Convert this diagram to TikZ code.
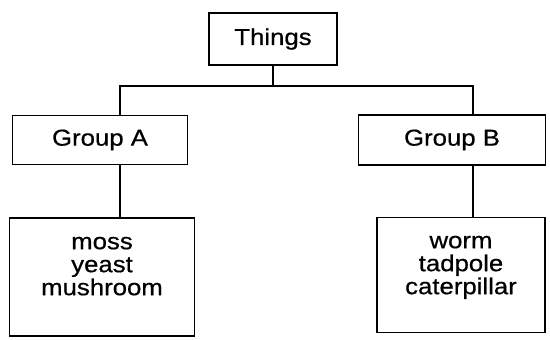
\documentclass[tikz,border=0pt]{standalone}
\usepackage{fontspec}
\setmainfont{Liberation Sans}[FakeStretch=1.12,FakeBold=0.6]
\begin{document}
\begin{tikzpicture}[x=1pt,y=-1pt,
  box/.style={draw=black,line width=1.3pt,inner sep=0pt,align=center,
    font=\fontsize{23}{23}\selectfont},
  link/.style={draw=black,line width=1.3pt}]
\useasboundingbox[fill=white] (0,0) rectangle (550,340);
\node[box,minimum width=128pt,minimum height=52pt] (T) at (273,39) {Things};
\node[box,minimum width=175pt,minimum height=49pt] (GA) at (100,140) {Group A};
\node[box,minimum width=187pt,minimum height=50pt] (GB) at (452,140) {Group B};
\node[box,minimum width=185pt,minimum height=118pt,text depth=22pt] (MA) at (102,277) {moss\\yeast\\mushroom};
\node[box,minimum width=168pt,minimum height=115pt,text depth=20pt] (MB) at (461,275) {worm\\tadpole\\caterpillar};
\coordinate (bar) at (0,86);
\coordinate (aX) at (120,0);
\coordinate (bX) at (473,0);
\draw[link] (T.south) -- (T.south |- bar);
\draw[link] (GA.north -| aX) -- (aX |- bar) -- (bX |- bar) -- (GB.north -| bX);
\draw[link] (GA.south -| aX) -- (MA.north -| aX);
\draw[link] (GB.south -| bX) -- (MB.north -| bX);
\end{tikzpicture}
\end{document}
